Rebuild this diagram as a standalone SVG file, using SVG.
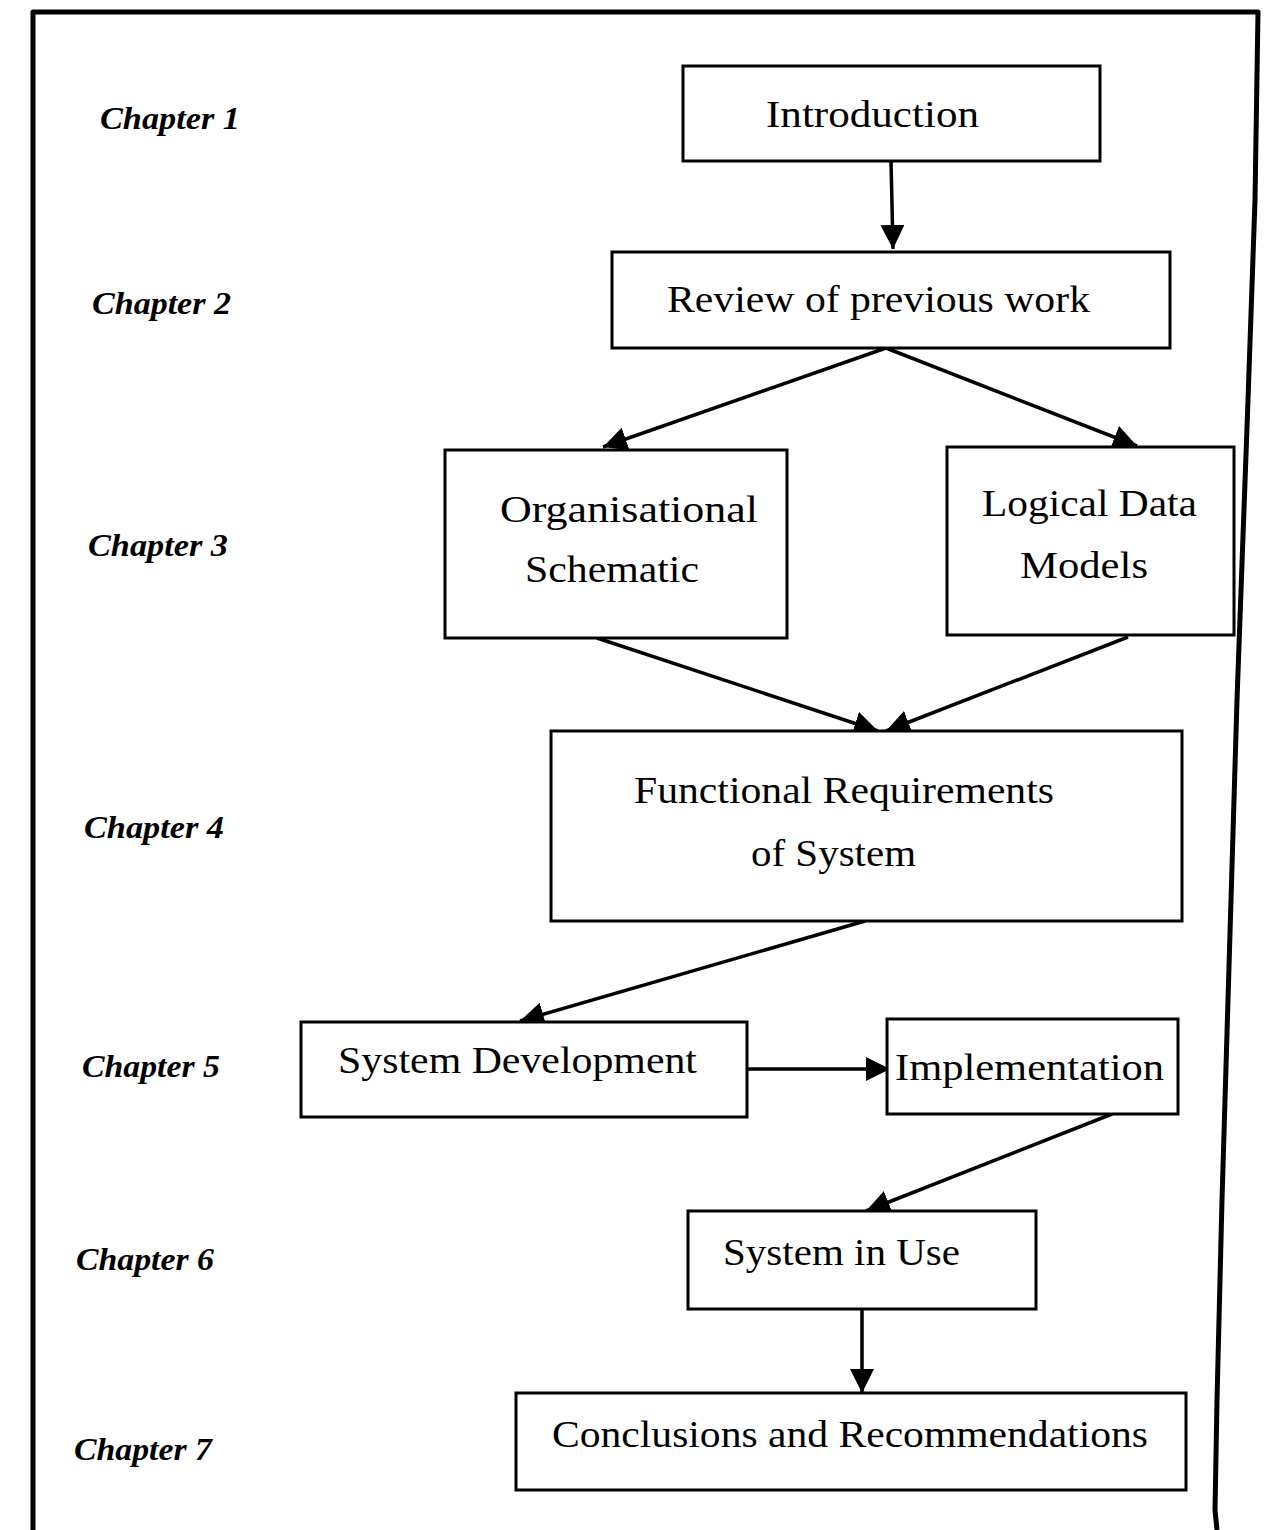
<svg xmlns="http://www.w3.org/2000/svg" width="1264" height="1530" viewBox="0 0 1264 1530">
  <style>
    .box { fill: #fff; stroke: #000; stroke-width: 3; }
    .lbl { font-family: "Liberation Serif", "Times New Roman", serif; font-size: 38px; fill: #000; }
    .ch { font-family: "Liberation Serif", "Times New Roman", serif; font-size: 31px; font-style: italic; font-weight: bold; fill: #000; }
    .edge { fill: none; stroke: #000; stroke-width: 3.5; }
  </style>
  <defs>
    <marker id="head" viewBox="0 0 24 24" refX="24" refY="12" markerWidth="24" markerHeight="24" markerUnits="userSpaceOnUse" orient="auto">
      <path d="M0,0 L24,12 L0,24 Z" fill="#000"/>
    </marker>
  </defs>
  <rect width="1264" height="1530" fill="#fff"/>

  <!-- page frame, open at the bottom -->
  <path d="M33,1530 L33,12 L1258,12 L1255,200 L1248,400 L1237,700 L1222,1200 L1217,1400 L1215,1510 L1217,1530" fill="none" stroke="#000" stroke-width="5" stroke-linejoin="round"/>

  <!-- chapter labels -->
  <g id="chapters">
    <text class="ch" x="100" y="129" textLength="140" lengthAdjust="spacingAndGlyphs">Chapter 1</text>
    <text class="ch" x="92" y="314" textLength="139" lengthAdjust="spacingAndGlyphs">Chapter 2</text>
    <text class="ch" x="88" y="556" textLength="140" lengthAdjust="spacingAndGlyphs">Chapter 3</text>
    <text class="ch" x="84" y="838" textLength="140" lengthAdjust="spacingAndGlyphs">Chapter 4</text>
    <text class="ch" x="82" y="1077" textLength="138" lengthAdjust="spacingAndGlyphs">Chapter 5</text>
    <text class="ch" x="76" y="1270" textLength="138" lengthAdjust="spacingAndGlyphs">Chapter 6</text>
    <text class="ch" x="74" y="1460" textLength="138" lengthAdjust="spacingAndGlyphs">Chapter 7</text>
  </g>

  <!-- connectors -->
  <g id="connectors">
    <line class="edge" x1="891" y1="161" x2="893" y2="249" marker-end="url(#head)"/>
    <line class="edge" x1="886" y1="348" x2="603" y2="447" marker-end="url(#head)"/>
    <line class="edge" x1="886" y1="348" x2="1137" y2="446" marker-end="url(#head)"/>
    <line class="edge" x1="597" y1="638" x2="878" y2="731" marker-end="url(#head)"/>
    <line class="edge" x1="1128" y1="637" x2="886" y2="731" marker-end="url(#head)"/>
    <line class="edge" x1="865" y1="921" x2="520" y2="1021" marker-end="url(#head)"/>
    <line class="edge" x1="747" y1="1069" x2="890" y2="1069" marker-end="url(#head)"/>
    <line class="edge" x1="1112" y1="1114" x2="866" y2="1211" marker-end="url(#head)"/>
    <line class="edge" x1="862" y1="1309" x2="862" y2="1393" marker-end="url(#head)"/>
  </g>

  <g id="introduction">
    <rect class="box" x="683" y="66" width="417" height="95"/>
    <text class="lbl" x="766" y="127" textLength="213" lengthAdjust="spacingAndGlyphs">Introduction</text>
  </g>
  <g id="review">
    <rect class="box" x="612" y="252" width="558" height="96"/>
    <text class="lbl" x="667" y="312" textLength="423" lengthAdjust="spacingAndGlyphs">Review of previous work</text>
  </g>
  <g id="organisational-schematic">
    <rect class="box" x="445" y="450" width="342" height="188"/>
    <text class="lbl" x="500" y="522" textLength="258" lengthAdjust="spacingAndGlyphs">Organisational</text>
    <text class="lbl" x="525" y="582" textLength="174" lengthAdjust="spacingAndGlyphs">Schematic</text>
  </g>
  <g id="logical-data-models">
    <rect class="box" x="947" y="447" width="287" height="188"/>
    <text class="lbl" x="982" y="516" textLength="215" lengthAdjust="spacingAndGlyphs">Logical Data</text>
    <text class="lbl" x="1020" y="578" textLength="128" lengthAdjust="spacingAndGlyphs">Models</text>
  </g>
  <g id="functional-requirements">
    <rect class="box" x="551" y="731" width="631" height="190"/>
    <text class="lbl" x="634" y="803" textLength="420" lengthAdjust="spacingAndGlyphs">Functional Requirements</text>
    <text class="lbl" x="751" y="866" textLength="165" lengthAdjust="spacingAndGlyphs">of System</text>
  </g>
  <g id="system-development">
    <rect class="box" x="301" y="1022" width="446" height="95"/>
    <text class="lbl" x="338" y="1073" textLength="359" lengthAdjust="spacingAndGlyphs">System Development</text>
  </g>
  <g id="implementation">
    <rect class="box" x="887" y="1019" width="291" height="95"/>
    <text class="lbl" x="895" y="1080" textLength="269" lengthAdjust="spacingAndGlyphs">Implementation</text>
  </g>
  <g id="system-in-use">
    <rect class="box" x="688" y="1211" width="348" height="98"/>
    <text class="lbl" x="723" y="1265" textLength="237" lengthAdjust="spacingAndGlyphs">System in Use</text>
  </g>
  <g id="conclusions">
    <rect class="box" x="516" y="1393" width="670" height="97"/>
    <text class="lbl" x="552" y="1447" textLength="596" lengthAdjust="spacingAndGlyphs">Conclusions and Recommendations</text>
  </g>
</svg>
